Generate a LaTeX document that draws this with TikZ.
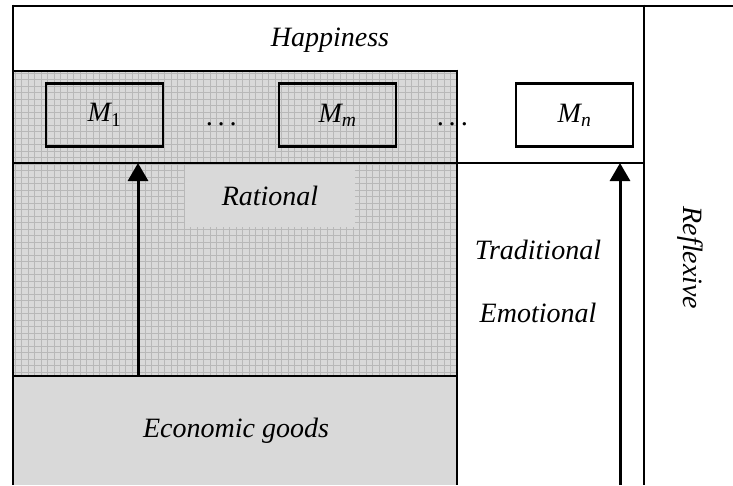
\documentclass[tikz,border=0pt]{standalone}
\usepackage{fontspec}
\setmainfont{Liberation Serif}
\usetikzlibrary{arrows.meta}
\definecolor{shadebg}{gray}{0.85}
\definecolor{shadegrid}{gray}{0.72}
\definecolor{plaingray}{gray}{0.85}
\newcommand{\wdots}{.\hspace{5pt}.\hspace{5pt}.}
\begin{document}
\begin{tikzpicture}[x=1pt,y=-1pt,line width=2.6pt,
  txt/.style={font=\fontsize{28}{32}\selectfont\itshape, inner sep=0pt},
  mbox/.style={draw, line width=2.6pt, minimum width=117pt, minimum height=63pt, inner sep=0pt, font=\fontsize{28}{32}\selectfont\itshape},
  uparrow/.style={line width=3pt, -{Triangle[width=20pt,length=18pt]}}]
\useasboundingbox (0,0) rectangle (733,485);
% shaded (rational) region
\fill[shadebg] (13,71) rectangle (457,376);
\begin{scope}
  \clip (13,71) rectangle (457,376);
  \foreach \i in {0,...,70} {
    \draw[shadegrid, line width=1pt] ({15+6.5*\i},71) -- ({15+6.5*\i},376);
  }
  \foreach \j in {0,...,48} {
    \draw[shadegrid, line width=1pt] (13,{73+6.5*\j}) -- (457,{73+6.5*\j});
  }
\end{scope}
% economic goods area
\fill[plaingray] (13,376) rectangle (457,485);
% rational label box
\node[fill=plaingray, minimum width=170pt, minimum height=62pt, inner sep=0pt] (ratbox) at (270,196) {};
\node[txt] (rational) at (270,196) {Rational};
% frame lines
\draw (13,6) -- (733,6);
\draw (13,4.7) -- (13,485);
\draw (13,71) -- (457,71);
\draw (457,69.7) -- (457,485);
\draw (13,163) -- (644,163);
\draw (13,376) -- (457,376);
\draw (644,4.7) -- (644,485);
% texts
\node[txt] (happy) at (330,40) {Happiness};
\node[txt] (trad) at (538,250) {Traditional};
\node[txt] (emo) at (538,313) {Emotional};
\node[txt] (econ) at (236,431) {Economic goods};
\node[txt, rotate=-90] (refl) at (690,258) {Reflexive};
% M boxes
\node[mbox] (m1) at (104.5,115) {M\textsubscript{\upshape 1}};
\node[mbox] (mm) at (337.5,115) {M\textsubscript{m}};
\node[mbox, fill=white] (mn) at (574.5,115) {M\textsubscript{n}};
\node[txt] (dots1) at (222,124) {\wdots};
\node[txt] (dots2) at (453,124) {\wdots};
% arrows
\coordinate (a1s) at (138,376);
\coordinate (a1e) at (138,163);
\coordinate (a2s) at (620,485);
\coordinate (a2e) at (620,163);
\draw[uparrow] (a1s) -- (a1e);
\draw[uparrow] (a2s) -- (a2e);
\end{tikzpicture}
\end{document}
